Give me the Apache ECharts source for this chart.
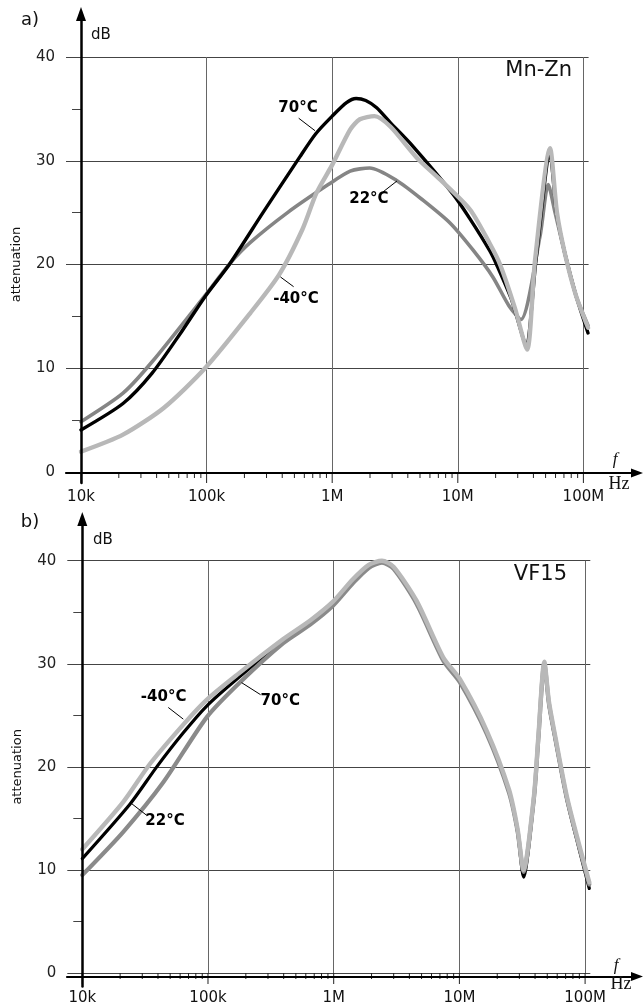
<!DOCTYPE html>
<html><head><meta charset="utf-8">
<script src="https://cdn.jsdelivr.net/npm/echarts@6/dist/echarts.min.js"></script>
<style>html,body{margin:0;padding:0;background:#fff}#c{width:644px;height:1006px}</style>
</head><body><div id="c"></div>
<script>
// ---- tick labels / axis values ----
const xTickLabels = ['10k', '100k', '1M', '10M', '100M'];
const decades = [1e4, 1e5, 1e6, 1e7, 1e8];
const minorMultipliers = [2, 3, 4, 5, 6, 7, 8, 9];
const yTicks = [0, 10, 20, 30, 40];

// ---- panel a) Mn-Zn : [frequency Hz, attenuation dB] ----
const mnzn70 = [[1e4,4.05],[2.16e4,6.6],[3.67e4,9.5],[6.22e4,13.4],[9.71e4,16.9],[1.536e5,20.1],[2.81e5,25],[5.54e5,30.4],[7.4e5,32.6],[1e6,34.3],[1.3e6,35.6],[1.55e6,36.0],[1.85e6,35.8],[2.26e6,35.1],[2.89e6,33.7],[4.24e6,31.6],[9e6,26.9],[1.25e7,24.4],[1.8e7,21.3],[2.05e7,19.9],[2.7e7,16.5],[3.49e7,12.3],[4.19e7,20.4],[5.42e7,30.6],[6.11e7,25],[7.14e7,21],[8.73e7,17],[1.088e8,13.4]];
const mnzn22 = [[1e4,4.85],[2.16e4,7.6],[3.67e4,10.6],[9.71e4,17],[1.536e5,20.1],[2.22e5,22.1],[4.41e5,25],[9.3e5,27.7],[1.39e6,29.0],[1.99e6,29.3],[3.26e6,28.1],[5.28e6,26.2],[8.67e6,24.0],[1.32e7,21.4],[1.9e7,18.8],[2.56e7,16.0],[3.18e7,14.7],[4.51e7,22.7],[5.25e7,27.7],[5.95e7,25],[7.14e7,21],[8.73e7,17],[1.09e8,14.1]];
const mnznM40 = [[1e4,1.96],[2.16e4,3.6],[4.58e4,6.2],[9.71e4,10],[2.22e5,15.3],[3.77e5,19],[5.8e5,23.4],[7.5e5,26.9],[1e6,29.6],[1.39e6,33],[1.66e6,34],[2.17e6,34.3],[2.9e6,33.3],[4.71e6,30.3],[7.21e6,28.2],[1.25e7,25.3],[1.8e7,22],[2.17e7,20],[2.85e7,15.8],[3.56e7,11.8],[4.12e7,20.4],[5.42e7,31.2],[6.16e7,25],[7.14e7,21],[8.73e7,17],[1.09e8,13.9]];

// ---- panel b) VF15 ----
const vf22 = [[1e4,11.1],[2.4e4,16.4],[3.91e4,20],[6.36e4,23.3],[9.76e4,25.9],[1.69e5,28.5],[3.97e5,32.2],[6.5e5,34.0],[9.82e5,35.8],[1.42e6,38.0],[1.9e6,39.5],[2.42e6,40.0],[3.0e6,39.3],[4.57e6,35.9],[7.45e6,30.4],[1.01e7,28.3],[1.65e7,23.3],[2.48e7,17.6],[2.9e7,13.7],[3.24e7,9.3],[3.92e7,16.9],[4.24e7,22.5],[4.74e7,30.0],[5.16e7,26],[5.82e7,22.5],[7.14e7,16.9],[8.94e7,12.1],[1.08e8,8.2]];
const vf70 = [[1e4,9.5],[2.12e4,13.7],[4.41e4,18.5],[9.76e4,24.8],[1.8e5,28.2],[3.97e5,32.0],[6.5e5,33.8],[9.82e5,35.6],[1.42e6,37.8],[1.9e6,39.3],[2.42e6,39.8],[3.0e6,39.2],[4.57e6,35.8],[7.45e6,30.3],[1.01e7,28.2],[1.65e7,23.2],[2.48e7,17.5],[2.9e7,13.8],[3.24e7,9.8],[3.92e7,17.0],[4.24e7,22.6],[4.74e7,30.0],[5.16e7,26.1],[5.82e7,22.6],[7.14e7,17.0],[8.94e7,12.3],[1.08e8,8.6]];
const vfM40 = [[1e4,12.0],[2.12e4,16.6],[3.46e4,20.3],[6.36e4,24.1],[9.76e4,26.5],[1.69e5,28.9],[3.97e5,32.4],[6.5e5,34.2],[9.82e5,36.0],[1.42e6,38.2],[1.9e6,39.6],[2.42e6,40.0],[3.0e6,39.4],[4.57e6,36.1],[7.45e6,30.6],[1.01e7,28.5],[1.65e7,23.5],[2.48e7,17.8],[2.9e7,14.0],[3.24e7,10.0],[3.92e7,17.2],[4.24e7,22.8],[4.74e7,30.2],[5.16e7,26.3],[5.82e7,22.8],[7.14e7,17.2],[8.94e7,12.5],[1.08e8,8.8]];

// curve label annotations: [freq, dB]
const annotA = [
  {text: '70°C', at: [5.34e5, 35.1], leader: [[7.29e5, 32.9], [5.41e5, 34.1]]},
  {text: '22°C', at: [1.96e6, 26.3], leader: [[3.28e6, 28.05], [2.54e6, 27.0]]},
  {text: '-40°C', at: [5.15e5, 16.7], leader: [[3.87e5, 18.8], [4.93e5, 17.86]]}
];
const annotB = [
  {text: '-40°C', at: [4.44e4, 26.75], leader: [[6.36e4, 24.63], [4.83e4, 25.76]]},
  {text: '70°C', at: [3.76e5, 26.36], leader: [[1.85e5, 28.17], [2.62e5, 27.0]]},
  {text: '22°C', at: [4.55e4, 14.7], leader: [[2.47e4, 16.43], [3.25e4, 15.3]]}
];

// x tick positions (axis decoration)
const xTicks = [];
decades.forEach((d, i) => {
  xTicks.push([d, 1]);
  if (i < decades.length - 1) minorMultipliers.forEach(m => xTicks.push([d * m, 0]));
});

const SANS = 'DejaVu Sans';
const chart = echarts.init(document.getElementById('c'));

function panelAxes(gi, l, t, w, h) {
  return {
    grid: {left: l, top: t, width: w, height: h},
    xAxis: {
      type: 'log', logBase: 10, min: 1e4, max: 1.1e8, gridIndex: gi,
      axisLine: {show: false}, axisTick: {show: false},
      splitLine: {show: true, showMaxLine: false, lineStyle: {color: '#666', width: 1}},
      axisLabel: {
        show: true, margin: 18, fontSize: 15, fontFamily: SANS, color: '#111', showMaxLabel: false,
        formatter: v => { const k = Math.round(Math.log10(v)) - 4; return (Math.abs(Math.log10(v) - Math.round(Math.log10(v))) < 1e-6 && xTickLabels[k]) ? xTickLabels[k] : ''; }
      }
    },
    yAxis: {
      type: 'value', min: yTicks[0], max: yTicks[yTicks.length - 1], interval: 10, gridIndex: gi,
      axisLine: {show: false},
      axisTick: {show: true, length: 15, lineStyle: {color: '#444', width: 1}},
      minorTick: {show: true, splitNumber: 2, length: 9, lineStyle: {color: '#444', width: 1}},
      splitLine: {show: true, lineStyle: {color: '#444', width: 1}},
      axisLabel: {margin: 26, fontSize: 15, fontFamily: SANS, color: '#222'},
      name: 'attenuation', nameLocation: 'middle', nameGap: 58, nameRotate: 90,
      nameTextStyle: {fontSize: 13, fontFamily: SANS, color: '#111'}
    }
  };
}
function arrowY(gi, l, t, h) {
  return {
    grid: {left: l, top: t, width: 1, height: h},
    xAxis: {type: 'value', gridIndex: gi, show: false},
    yAxis: {type: 'value', gridIndex: gi, min: 0, max: 1, z: 10,
      axisLine: {show: true, symbol: ['none', 'triangle'], symbolSize: [10, 14], lineStyle: {color: '#000', width: 2.5}},
      axisTick: {show: false}, axisLabel: {show: false}, splitLine: {show: false}}
  };
}
function arrowX(gi, l, t, w) {
  return {
    grid: {left: l, top: t, width: w, height: 1},
    xAxis: {type: 'value', gridIndex: gi, min: 0, max: 1, position: 'top', z: 10,
      axisLine: {show: true, symbol: ['none', 'triangle'], symbolSize: [9, 12], lineStyle: {color: '#000', width: 2.2}},
      axisTick: {show: false}, axisLabel: {show: false}, splitLine: {show: false}},
    yAxis: {type: 'value', gridIndex: gi, show: false}
  };
}

const parts = [
  panelAxes(0, 81, 57, 507.6, 415),
  arrowY(1, 81, 14, 469),
  arrowX(2, 66, 472, 571),
  panelAxes(3, 82.3, 560.7, 508.0, 414.7),
  arrowY(4, 82.3, 519, 467.4),
  arrowX(5, 67, 975.4, 570)
];

function curve(data, gi, color, width) {
  return {type: 'line', data, xAxisIndex: gi, yAxisIndex: gi, showSymbol: false, symbol: 'none',
    smooth: 0.25, clip: false, silent: true,
    lineStyle: {color, width, cap: 'round', join: 'round'}};
}
function tickSeries(gi) {
  return {type: 'custom', xAxisIndex: gi, yAxisIndex: gi, data: xTicks, silent: true, z: 4,
    renderItem: (p, api) => {
      const pt = api.coord([api.value(0), 0]);
      const len = api.value(1) ? 11 : 6;
      return {type: 'line', shape: {x1: pt[0], y1: pt[1], x2: pt[0], y2: pt[1] + len},
        style: {stroke: '#222', lineWidth: 1}};
    }};
}

const option = {
  animation: false,
  backgroundColor: '#fff',
  grid: parts.map(p => p.grid),
  xAxis: parts.map(p => p.xAxis),
  yAxis: parts.map(p => p.yAxis),
  series: [
    curve(mnzn22, 0, '#858585', 3.6),
    curve(mnzn70, 0, '#000000', 3.4),
    curve(mnznM40, 0, '#b8b8b8', 4.4),
    tickSeries(0),
    curve(vf22, 3, '#000000', 3.2),
    curve(vf70, 3, '#8a8a8a', 4.2),
    curve(vfM40, 3, '#b8b8b8', 4.4),
    tickSeries(3)
  ]
};
chart.setOption(option);

function txt(x, y, text, font, align, fill) {
  return {type: 'text', x, y, z: 20, silent: true,
    style: {text, font, align: align || 'center', verticalAlign: 'middle', fill: fill || '#111'}};
}
const gfx = [
  txt(30, 20, 'a)', '18px ' + SANS, 'center'),
  txt(91, 35, 'dB', '15px ' + SANS, 'left'),
  txt(572, 71, 'Mn-Zn', '21px ' + SANS, 'right'),
  txt(615, 460, 'f', 'italic 17px "Liberation Serif"', 'center'),
  txt(619, 484, 'Hz', '18px "Liberation Serif"', 'center'),
  txt(30, 522, 'b)', '18px ' + SANS, 'center'),
  txt(93, 540, 'dB', '15px ' + SANS, 'left'),
  txt(567, 575, 'VF15', '21px ' + SANS, 'right'),
  txt(616, 966, 'f', 'italic 17px "Liberation Serif"', 'center'),
  txt(621, 984, 'Hz', '18px "Liberation Serif"', 'center')
];
[[annotA, 0], [annotB, 3]].forEach(([list, gi]) => {
  list.forEach(a => {
    const p = chart.convertToPixel({gridIndex: gi}, a.at);
    const l1 = chart.convertToPixel({gridIndex: gi}, a.leader[0]);
    const l2 = chart.convertToPixel({gridIndex: gi}, a.leader[1]);
    gfx.push(txt(p[0], p[1], a.text, 'bold 15px ' + SANS, 'center', '#000'));
    gfx.push({type: 'line', z: 20, silent: true, shape: {x1: l1[0], y1: l1[1], x2: l2[0], y2: l2[1]},
      style: {stroke: '#000', lineWidth: 1}});
  });
});
chart.setOption({graphic: gfx});
</script></body></html>
